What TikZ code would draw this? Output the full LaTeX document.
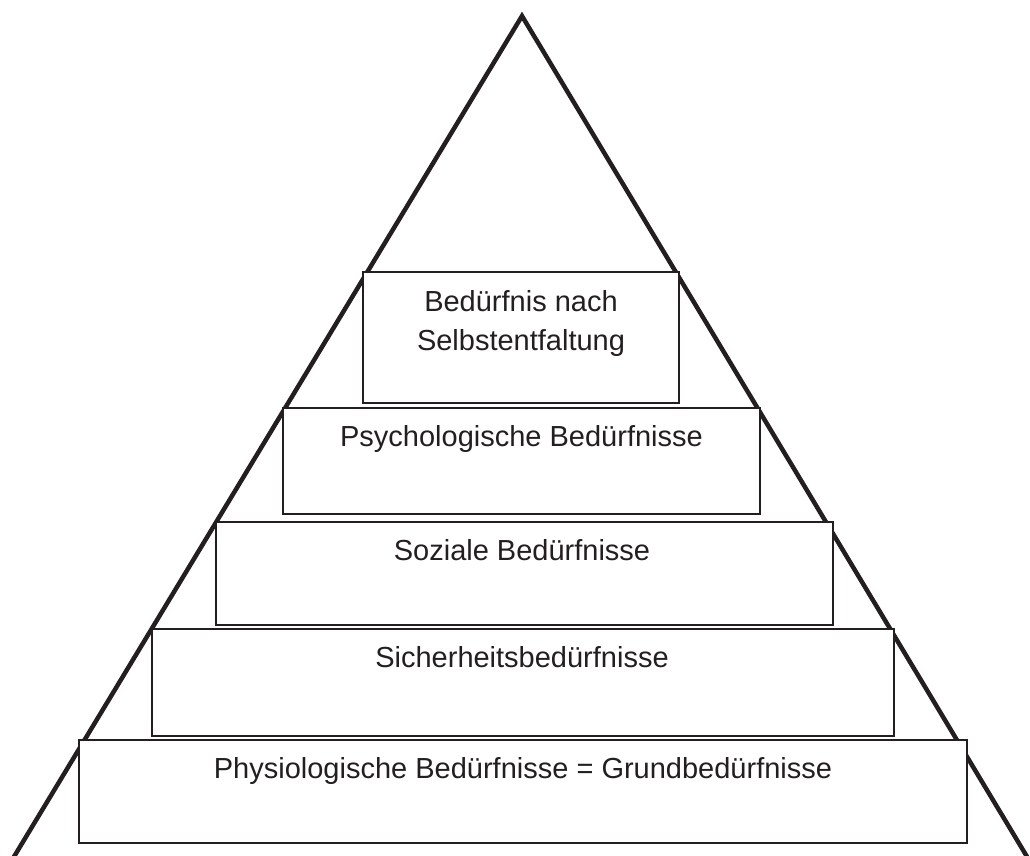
\documentclass[tikz,border=0pt]{standalone}
\usepackage{fontspec}
\setmainfont{Liberation Sans}
\definecolor{ink}{HTML}{231F20}
\begin{document}
\begin{tikzpicture}[x=1pt,y=-1pt,
  tri/.style={draw=ink,line width=4.5pt,miter limit=10},
  level/.style={draw=ink,fill=white,line width=2pt,inner sep=0pt,outer sep=0pt},
  lbl/.style={text=ink,anchor=base,inner sep=0pt,font=\fontsize{29}{39}\selectfont}]
\useasboundingbox (0,0) rectangle (1030,856);
\coordinate (apex) at (522,16);
\coordinate (bl) at (12,860);
\coordinate (br) at (1029,860);
\begin{scope}
\clip (0,0) rectangle (1030,856);
\draw[tri] (bl) -- (apex) -- (br);
\end{scope}
% boxes
\node[level,minimum width=316pt,minimum height=131pt] (b1) at (521,337.5) {};
\node[level,minimum width=477pt,minimum height=106pt] (b2) at (521.5,461) {};
\node[level,minimum width=617pt,minimum height=103pt] (b3) at (524.5,573.5) {};
\node[level,minimum width=742pt,minimum height=107pt] (b4) at (523,682.5) {};
\node[level,minimum width=888pt,minimum height=103pt] (b5) at (523,791.5) {};
% labels
\node[lbl] (t1a) at (521,311) {Bedürfnis nach};
\node[lbl] (t1b) at (521,350) {Selbstentfaltung};
\node[lbl] (t2) at (521.5,446) {Psychologische Bedürfnisse};
\node[lbl] (t3) at (522,560) {Soziale Bedürfnisse};
\node[lbl] (t4) at (522,667) {Sicherheitsbedürfnisse};
\node[lbl] (t5) at (523,778) {Physiologische Bedürfnisse = Grundbedürfnisse};
\end{tikzpicture}
\end{document}
